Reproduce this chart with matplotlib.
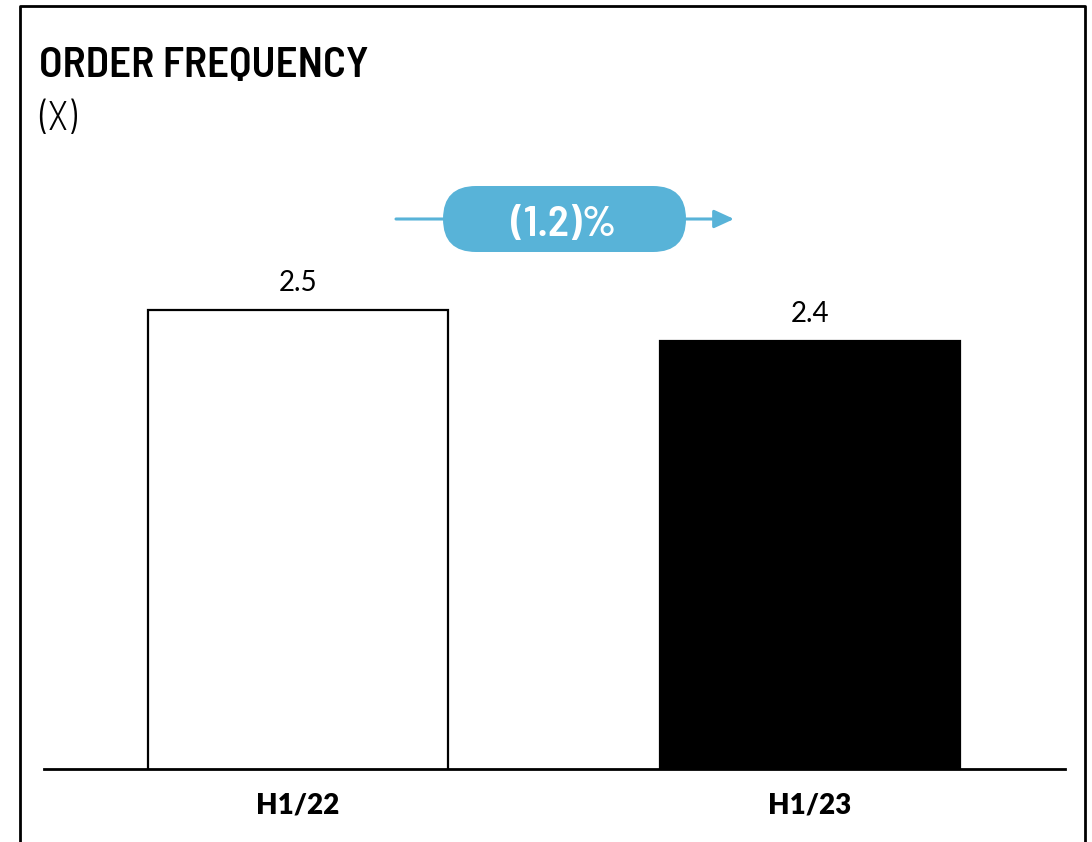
import matplotlib

matplotlib.use("Agg")
import matplotlib.pyplot as plt
from matplotlib.lines import Line2D
from matplotlib.patches import FancyBboxPatch, FancyArrowPatch

periods = ["H1/22", "H1/23"]
order_freq = [2.5, 2.4]
change_label = "(1.2)%"

bar_faces = ["white", "black"]
pill_blue = "#58b3d8"
cond = ["Barlow Semi Condensed", "Barlow Condensed", "DejaVu Sans"]
sans = ["Lato", "DejaVu Sans"]

fig = plt.figure(figsize=(10.92, 8.42), dpi=100)
W, H = 1092, 842

# main bar axes, positioned in pixels
left, right, base, top = 44, 1065, 769, 160
ax = fig.add_axes([left / W, (H - base) / H, (right - left) / W, (base - top) / H])
x = list(range(len(periods)))
ax.bar(x, order_freq, width=0.586, color=bar_faces, edgecolor="black", linewidth=1.6)
ax.set_xlim(-0.496, 1.498)
ax.set_ylim(1.02, 2.984)
for xi, v in zip(x, order_freq):
    ax.annotate(f"{v:.1f}", (xi, v), xytext=(0, 13.5), textcoords="offset points",
                ha="center", va="baseline", fontsize=20, family=sans, color="black")
for side in ("top", "right", "left"):
    ax.spines[side].set_visible(False)
ax.spines["bottom"].set_linewidth(2)
ax.set_yticks([])
ax.set_xticks(x)
ax.set_xticklabels(periods, fontsize=20, fontweight="heavy", family=sans)
ax.tick_params(axis="x", length=0, pad=17)

# overlay in pixel units for the frame, title and change pill
ov = fig.add_axes([0, 0, 1, 1], facecolor="none")
ov.set_xlim(0, W)
ov.set_ylim(H, 0)
ov.axis("off")

ov.add_line(Line2D([20, 20, 1085, 1085], [H + 5, 6, 6, H + 5], color="black", lw=2))

ov.text(39, 77, "ORDER FREQUENCY", fontsize=31, fontweight=600, family=cond,
        ha="left", va="baseline")
ov.text(39, 130, "(X)", fontsize=29, fontweight=300, family=cond, ha="left", va="baseline")

ov.add_patch(FancyArrowPatch((396, 219), (734, 219), arrowstyle="-|>,head_length=12,head_width=5.5",
                             color=pill_blue, lw=2.2, mutation_scale=1, shrinkA=0, shrinkB=0))
ov.add_patch(FancyBboxPatch((443, 186), 243, 66, boxstyle="round,pad=0,rounding_size=33",
                            facecolor=pill_blue, edgecolor="none", zorder=3))
ov.text(564, 236, change_label, fontsize=31, fontweight=600, family=cond,
        color="white", ha="center", va="baseline", zorder=4)

fig.savefig("out.png", dpi=100)
